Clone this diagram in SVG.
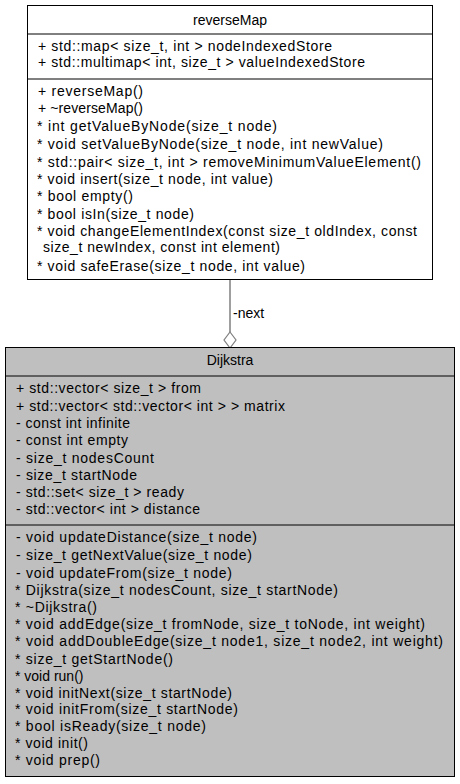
<svg xmlns="http://www.w3.org/2000/svg" width="460" height="784" viewBox="0 0 460 784">
<style>
text{font-family:"Liberation Sans",Arial,sans-serif;font-size:14px;fill:#000}
.t{text-anchor:middle}
.box{stroke:#000;stroke-width:1}
.div{stroke:#000;stroke-width:1}
</style>
<rect width="460" height="784" fill="#fff"/>
<g id="connectors">
<line x1="230" y1="280" x2="230" y2="332" stroke="#7f7f7f" stroke-width="1.5"/>
<polygon points="230,332 236,340 230,348 224,340" fill="#fff" stroke="#7f7f7f" stroke-width="1.2"/>
<text x="233" y="318">-next</text>
</g>
<g id="reverseMap">
<rect class="box" x="27.5" y="5.5" width="405" height="274" fill="#fff"/>
<line class="div" x1="27.5" y1="34" x2="432.5" y2="34"/>
<line class="div" x1="27.5" y1="79" x2="432.5" y2="79"/>
<text class="t" x="230" y="25">reverseMap</text>
<text x="38" y="51" textLength="294" lengthAdjust="spacing">+ std::map&lt; size_t, int &gt; nodeIndexedStore</text>
<text x="38" y="67" textLength="327" lengthAdjust="spacing">+ std::multimap&lt; int, size_t &gt; valueIndexedStore</text>
<text x="38" y="96" textLength="105" lengthAdjust="spacing">+ reverseMap()</text>
<text x="38" y="113" textLength="105" lengthAdjust="spacing">+ ~reverseMap()</text>
<text x="37" y="131" textLength="240" lengthAdjust="spacing">* int getValueByNode(size_t node)</text>
<text x="37" y="149" textLength="346" lengthAdjust="spacing">* void setValueByNode(size_t node, int newValue)</text>
<text x="37" y="166.5" textLength="384" lengthAdjust="spacing">* std::pair&lt; size_t, int &gt; removeMinimumValueElement()</text>
<text x="37" y="184" textLength="236" lengthAdjust="spacing">* void insert(size_t node, int value)</text>
<text x="37" y="201" textLength="96" lengthAdjust="spacing">* bool empty()</text>
<text x="37" y="218.5" textLength="157" lengthAdjust="spacing">* bool isIn(size_t node)</text>
<text x="37" y="236" textLength="380" lengthAdjust="spacing">* void changeElementIndex(const size_t oldIndex, const</text>
<text x="43" y="252" textLength="237" lengthAdjust="spacing">size_t newIndex, const int element)</text>
<text x="37" y="270.5" textLength="268" lengthAdjust="spacing">* void safeErase(size_t node, int value)</text>
</g>
<g id="Dijkstra">
<rect class="box" x="5.5" y="347.5" width="449" height="429" fill="#bfbfbf"/>
<line class="div" x1="5.5" y1="376" x2="454.5" y2="376"/>
<line class="div" x1="5.5" y1="525" x2="454.5" y2="525"/>
<text class="t" x="230" y="365">Dijkstra</text>
<text x="16" y="392.5" textLength="185" lengthAdjust="spacing">+ std::vector&lt; size_t &gt; from</text>
<text x="16" y="410.5" textLength="269" lengthAdjust="spacing">+ std::vector&lt; std::vector&lt; int &gt; &gt; matrix</text>
<text x="16" y="427.5" textLength="114" lengthAdjust="spacing">- const int infinite</text>
<text x="16" y="444.5" textLength="112" lengthAdjust="spacing">- const int empty</text>
<text x="16" y="462.5" textLength="138" lengthAdjust="spacing">- size_t nodesCount</text>
<text x="16" y="480" textLength="121" lengthAdjust="spacing">- size_t startNode</text>
<text x="16" y="497" textLength="168" lengthAdjust="spacing">- std::set&lt; size_t &gt; ready</text>
<text x="16" y="514" textLength="184" lengthAdjust="spacing">- std::vector&lt; int &gt; distance</text>
<text x="16" y="541.5" textLength="241" lengthAdjust="spacing">- void updateDistance(size_t node)</text>
<text x="16" y="560" textLength="236" lengthAdjust="spacing">- size_t getNextValue(size_t node)</text>
<text x="16" y="577.5" textLength="216" lengthAdjust="spacing">- void updateFrom(size_t node)</text>
<text x="15" y="595" textLength="323" lengthAdjust="spacing">* Dijkstra(size_t nodesCount, size_t startNode)</text>
<text x="15" y="611.5" textLength="82" lengthAdjust="spacing">* ~Dijkstra()</text>
<text x="15" y="628.5" textLength="410" lengthAdjust="spacing">* void addEdge(size_t fromNode, size_t toNode, int weight)</text>
<text x="15" y="646" textLength="428" lengthAdjust="spacing">* void addDoubleEdge(size_t node1, size_t node2, int weight)</text>
<text x="15" y="663.5" textLength="158" lengthAdjust="spacing">* size_t getStartNode()</text>
<text x="15" y="681">* void run()</text>
<text x="15" y="697.5" textLength="217" lengthAdjust="spacing">* void initNext(size_t startNode)</text>
<text x="15" y="713.5" textLength="223" lengthAdjust="spacing">* void initFrom(size_t startNode)</text>
<text x="15" y="730.5" textLength="191" lengthAdjust="spacing">* bool isReady(size_t node)</text>
<text x="15" y="747.5" textLength="73" lengthAdjust="spacing">* void init()</text>
<text x="15" y="764.5" textLength="85" lengthAdjust="spacing">* void prep()</text>
</g>
</svg>
